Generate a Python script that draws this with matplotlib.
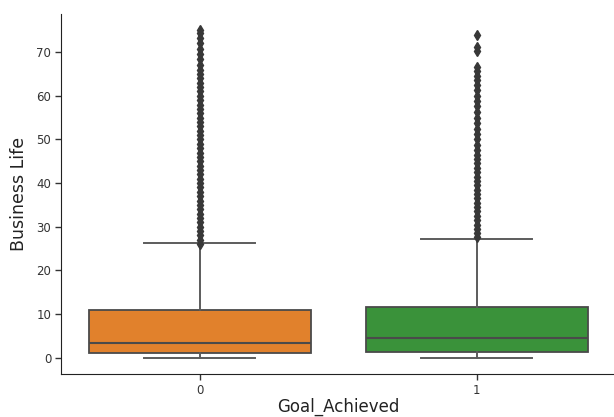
import matplotlib
matplotlib.use("Agg")
import matplotlib.pyplot as plt

# summary values (Business Life by Goal_Achieved)
groups = ["0", "1"]
box_colors = ["#e1812c", "#3a923a"]
q1 = [1.0, 1.2]
medians = [3.4, 4.4]
q3 = [11.0, 11.7]
whisker_low = [0.0, 0.0]
whisker_high = [26.2, 27.3]

# outliers: dense column plus the few sparse points at the top
fliers_0 = [26, 27, 28, 29, 30, 31, 32, 33, 34, 35, 36, 37, 38, 39, 40, 41, 42,
            43, 44, 45, 46, 47, 48, 49, 50, 51, 52, 53, 54, 55, 56, 57, 58, 59,
            60, 61, 62, 63, 64, 65, 66, 67, 68.5, 69.7, 70.8, 72.0, 73.2, 74.3, 75.2]
fliers_1 = [27.6, 28.5, 29.5, 30.5, 31.5, 32.5, 33.5, 34.5, 35.5, 36.5, 37.5,
            38.5, 39.5, 40.5, 41.5, 42.5, 43.5, 44.5, 45.5, 46.5, 47.5, 48.8,
            50.0, 51.3, 52.5, 53.8, 55.0, 56.4, 57.6, 58.8, 60.0, 61.3, 62.5,
            63.6, 64.6, 65.6, 66.6, 70.2, 71.3, 74.0]

stats = []
for i, g in enumerate(groups):
    stats.append({
        "label": g,
        "q1": q1[i], "med": medians[i], "q3": q3[i],
        "whislo": whisker_low[i], "whishi": whisker_high[i],
        "fliers": [fliers_0, fliers_1][i],
    })

line_col = "#4a4a4a"
whisk_col = "#5c5c5c"
fig = plt.figure(figsize=(6.14, 4.17), dpi=100)
ax = fig.add_axes([0.0993, 0.1031, 0.9032, 0.8633])

bp = ax.bxp(stats, positions=[0, 1], widths=0.8, patch_artist=True,
            boxprops=dict(edgecolor=line_col, linewidth=1.3),
            medianprops=dict(color=line_col, linewidth=1.5),
            whiskerprops=dict(color=whisk_col, linewidth=1.4),
            capprops=dict(color=whisk_col, linewidth=1.4),
            flierprops=dict(marker="d", markerfacecolor="#383838",
                            markeredgecolor="#383838", markersize=5.5))
for patch, c in zip(bp["boxes"], box_colors):
    patch.set_facecolor(c)
for cap in bp["caps"]:
    x0, x1 = cap.get_xdata()
    mid = (x0 + x1) / 2
    cap.set_xdata([mid - 0.2, mid + 0.2])

ax.set_xlim(-0.5, 1.5)
ax.set_ylim(-3.75, 78.75)
ax.set_yticks([0, 10, 20, 30, 40, 50, 60, 70])
ax.set_xticks([0, 1])
ax.set_xticklabels(groups)
ax.spines["top"].set_visible(False)
ax.spines["right"].set_visible(False)
for s in ["left", "bottom"]:
    ax.spines[s].set_color("#222222")
ax.tick_params(labelsize=8.5, colors="#333333", length=4.5, width=1, pad=2.5)
ax.set_ylabel("Business Life", fontsize=12.5, color="#222222", labelpad=6)
ax.set_xlabel("Goal_Achieved", fontsize=12, color="#222222", labelpad=1)

fig.savefig("out.png", dpi=100)
